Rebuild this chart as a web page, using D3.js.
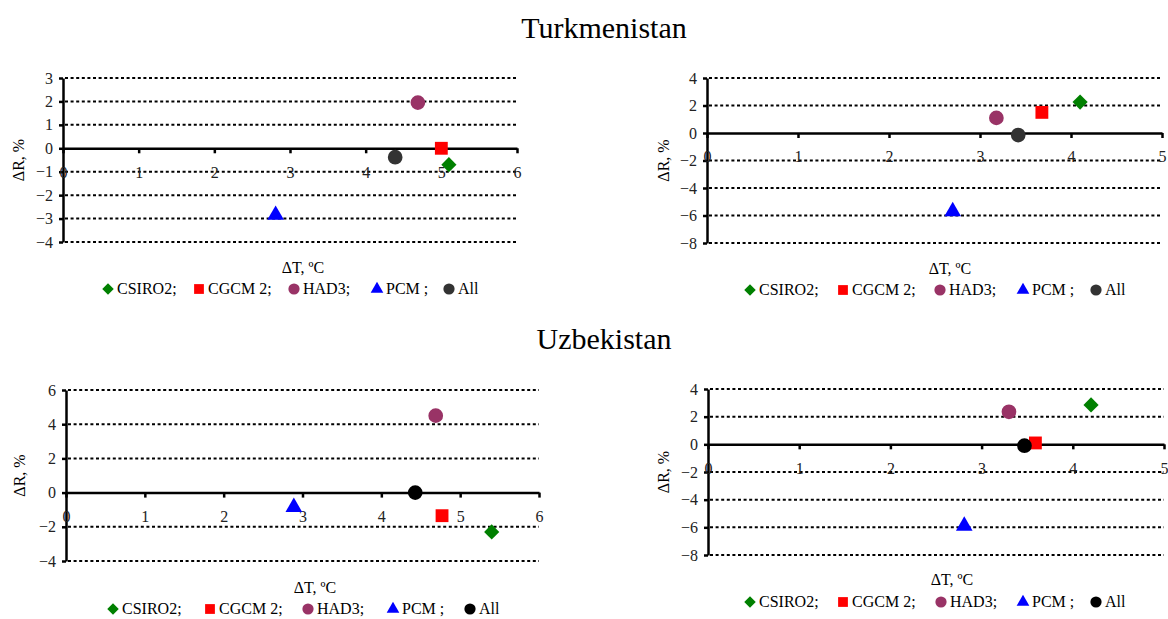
<!DOCTYPE html>
<html>
<head>
<meta charset="utf-8">
<script src="https://cdn.jsdelivr.net/npm/d3@7"></script>
<style>
  body { margin: 0; background: #fff; }
  svg { font-family: "Liberation Serif", "Times New Roman", serif; }
  .grid { stroke: #000; stroke-width: 2; stroke-dasharray: 3 2.6; }
  .axis path, .axis line { stroke: #000; stroke-width: 2.5; }
  .axis text { font-size: 16px; fill: #222; font-family: "Liberation Serif", serif; }
</style>
</head>
<body>
<svg id="chart" width="1168" height="619"></svg>
<script>
// model names and legend text
const models = ["CSIRO2", "CGCM2", "HAD3", "PCM", "All"];
const legendText = ["CSIRO2;", "CGCM 2;", "HAD3;", "PCM ;", "All"];
const countries = ["Turkmenistan", "Uzbekistan"];

// ΔT (x) and ΔR (y) per model, order as in models
const turkLeftT = [5.1, 5.0, 4.69, 2.81, 4.39];
const turkLeftR = [-0.7, 0.0, 1.95, -2.85, -0.38];
const turkRightT = [4.1, 3.68, 3.18, 2.7, 3.42];
const turkRightR = [2.25, 1.5, 1.1, -5.7, -0.15];
const uzbLeftT = [5.4, 4.77, 4.69, 2.89, 4.43];
const uzbLeftR = [-2.3, -1.35, 4.5, -0.85, 0.0];
const uzbRightT = [4.2, 3.59, 3.3, 2.81, 3.47];
const uzbRightR = [2.85, 0.1, 2.35, -5.9, -0.1];

// tick values
const xTicksLeft = [0, 1, 2, 3, 4, 5, 6];
const xTicksRight = [0, 1, 2, 3, 4, 5];
const yTicksTurkLeft = [-4, -3, -2, -1, 0, 1, 2, 3];
const yTicksUzbLeft = [-4, -2, 0, 2, 4, 6];
const yTicksRight = [-8, -6, -4, -2, 0, 2, 4];

const colors = ["#008000", "#ff0000", "#993366", "#0000ff"];

const svg = d3.select("#chart");

// country titles
svg.selectAll(".title")
  .data(countries)
  .enter().append("text")
  .attr("x", 604)
  .attr("y", (d, i) => i === 0 ? 38 : 349)
  .attr("text-anchor", "middle")
  .style("font-size", "30px")
  .text(d => d);

const panels = [
  { t: turkLeftT, r: turkLeftR, xt: xTicksLeft, yt: yTicksTurkLeft, left: 63, right: 517, top: 78, bottom: 242,
    yLabX: 18, xLabX: 303, xLabY: 273, legY: 294, legX: [108, 199, 294, 377, 449], allCol: "#333333" },
  { t: turkRightT, r: turkRightR, xt: xTicksRight, yt: yTicksRight, left: 707, right: 1162, top: 78, bottom: 243,
    yLabX: 663, xLabX: 950, xLabY: 274, legY: 295, legX: [750, 843, 940, 1023, 1096], allCol: "#333333" },
  { t: uzbLeftT, r: uzbLeftR, xt: xTicksLeft, yt: yTicksUzbLeft, left: 66, right: 539, top: 390, bottom: 561,
    yLabX: 19, xLabX: 315, xLabY: 593, legY: 614, legX: [113, 210, 308, 393, 470], allCol: "#000000" },
  { t: uzbRightT, r: uzbRightR, xt: xTicksRight, yt: yTicksRight, left: 708, right: 1164, top: 389, bottom: 555,
    yLabX: 663, xLabX: 952, xLabY: 585, legY: 607, legX: [750, 843, 941, 1023, 1096], allCol: "#000000" }
];

function markerPath(i, big) {
  const k = big ? 1 : 0.58;
  if (i === 0) return d3.symbol(d3.symbolSquare, 115 * k)();
  if (i === 1) return d3.symbol(d3.symbolSquare, 165 * k)();
  if (i === 3) return d3.symbol(d3.symbolTriangle, 120 * k)();
  return d3.symbol(d3.symbolCircle, 170 * k)();
}
function markerRot(i) { return i === 0 ? " rotate(45)" : ""; }

panels.forEach(p => {
  const x = d3.scaleLinear().domain(d3.extent(p.xt)).range([p.left, p.right]);
  const y = d3.scaleLinear().domain(d3.extent(p.yt)).range([p.bottom, p.top]);
  const g = svg.append("g");

  // dotted gridlines
  g.selectAll(".grid")
    .data(p.yt.filter(v => v !== 0))
    .enter().append("line")
    .attr("class", "grid")
    .attr("x1", p.left + 2).attr("x2", p.right)
    .attr("y1", d => y(d)).attr("y2", d => y(d));

  // y axis
  g.append("g")
    .attr("class", "axis")
    .attr("transform", `translate(${p.left},0)`)
    .call(d3.axisLeft(y).tickValues(p.yt).tickSize(4).tickSizeOuter(0).tickPadding(6).tickFormat(d3.format("d")));

  // x axis at zero
  g.append("g")
    .attr("class", "axis")
    .attr("transform", `translate(0,${y(0)})`)
    .call(d3.axisBottom(x).tickValues(p.xt).tickSize(5).tickSizeOuter(0).tickPadding(13).tickFormat(d3.format("d")));

  // axis titles
  g.append("text")
    .attr("transform", `translate(${p.yLabX},${(p.top + p.bottom) / 2}) rotate(-90)`)
    .attr("text-anchor", "middle")
    .attr("dy", "0.35em")
    .style("font-size", "16px")
    .text("ΔR, %");
  g.append("text")
    .attr("x", p.xLabX).attr("y", p.xLabY)
    .attr("text-anchor", "middle")
    .style("font-size", "16px")
    .text("ΔT, ºC");

  // points
  const cols = colors.concat([p.allCol]);
  g.selectAll(".pt")
    .data(models)
    .enter().append("path")
    .attr("d", (d, i) => markerPath(i, true))
    .attr("transform", (d, i) => `translate(${x(p.t[i])},${y(p.r[i])})` + markerRot(i))
    .attr("fill", (d, i) => cols[i]);

  // legend
  const leg = g.selectAll(".leg")
    .data(models)
    .enter().append("g")
    .attr("transform", (d, i) => `translate(${p.legX[i]},${p.legY - 5})`);
  leg.append("path")
    .attr("d", (d, i) => markerPath(i, false))
    .attr("transform", (d, i) => markerRot(i).trim())
    .attr("fill", (d, i) => cols[i]);
  leg.append("text")
    .attr("x", 9).attr("y", 5)
    .style("font-size", "16px")
    .text((d, i) => legendText[i]);
});
</script>
</body>
</html>
